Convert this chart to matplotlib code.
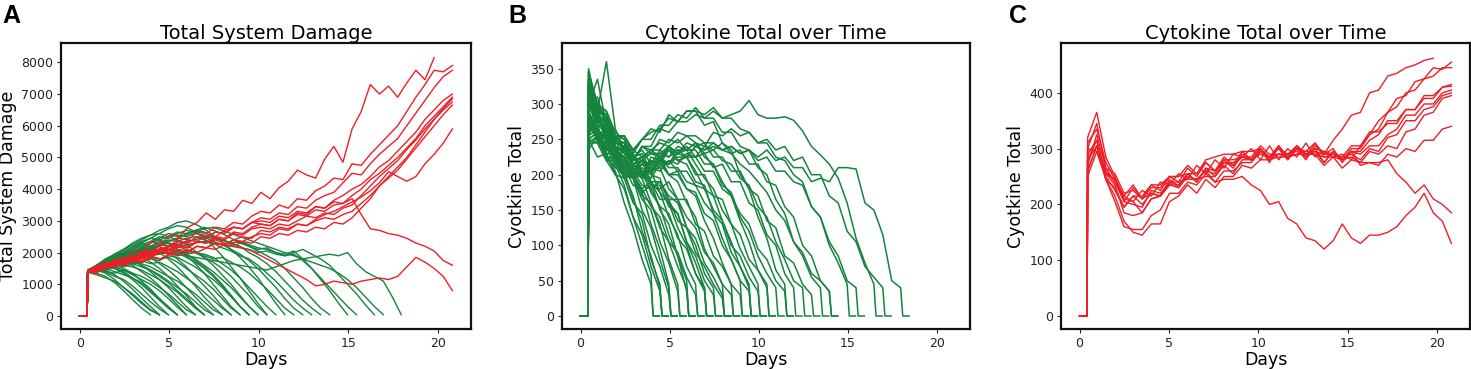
import numpy as np
import matplotlib
matplotlib.use("Agg")
import matplotlib.pyplot as plt

# ---------------- data ----------------
ONSET_DAY = 0.42          # infection onset: values are 0 before this day
GREEN_T0 = 0.45           # first sample day of each run after onset
GREEN_STEP = 0.5          # sampling step (days) for recovered runs
RED_DAYS = np.linspace(0.45, 20.8, 41)   # sample days for fatal runs

# Panel A - total system damage, recovered runs (green)
damage_recovered = [
    [1400, 1350, 1250, 1050, 800, 520, 250, 40],
    [1420, 1500, 1450, 1300, 1100, 850, 560, 300, 40],
    [1380, 1300, 1200, 1100, 900, 700, 450, 200, 40],
    [1400, 1450, 1350, 1150, 900, 650, 400, 180, 40],
    [1450, 1550, 1600, 1500, 1350, 1150, 900, 600, 300, 40],
    [1400, 1450, 1380, 1250, 1150, 950, 700, 450, 220, 40],
    [1430, 1600, 1700, 1650, 1500, 1350, 1100, 850, 550, 250, 40],
    [1390, 1420, 1500, 1400, 1300, 1200, 1050, 800, 550, 300, 40],
    [1430, 1550, 1600, 1500, 1400, 1200, 1000, 750, 500, 250, 40],
    [1410, 1550, 1650, 1800, 1700, 1600, 1400, 1200, 950, 650, 350, 40],
    [1460, 1500, 1450, 1550, 1450, 1300, 1150, 1000, 800, 550, 280, 40],
    [1400, 1500, 1600, 1700, 1850, 1750, 1600, 1400, 1150, 900, 600, 300, 40],
    [1440, 1480, 1400, 1350, 1450, 1350, 1250, 1100, 900, 700, 450, 200, 40],
    [1420, 1600, 1750, 1850, 1950, 2050, 1900, 1700, 1500, 1250, 950, 650, 300, 40],
    [1380, 1450, 1550, 1500, 1600, 1550, 1450, 1300, 1150, 950, 750, 500, 250, 40],
    [1410, 1500, 1650, 1700, 1650, 1750, 1600, 1450, 1250, 1050, 800, 550, 280, 40],
    [1450, 1550, 1700, 1800, 1750, 1900, 2000, 1850, 1650, 1450, 1200, 900, 600, 300, 40],
    [1400, 1500, 1450, 1600, 1700, 1650, 1550, 1450, 1300, 1100, 900, 700, 450, 200, 40],
    [1430, 1600, 1800, 1900, 2000, 2150, 2300, 2200, 2000, 1800, 1550, 1250, 950, 600, 300, 40],
    [1410, 1480, 1550, 1650, 1600, 1700, 1650, 1550, 1400, 1250, 1100, 900, 700, 450, 200, 40],
    [1460, 1550, 1700, 1850, 1800, 1950, 2100, 2050, 2200, 2000, 1800, 1550, 1250, 950, 650, 300, 40],
    [1400, 1450, 1600, 1550, 1700, 1800, 1750, 1650, 1700, 1550, 1400, 1200, 1000, 750, 500, 250, 40],
    [1420, 1600, 1750, 1900, 2050, 2200, 2350, 2450, 2400, 2300, 2100, 1900, 1650, 1350, 1000, 650, 300, 40],
    [1390, 1500, 1600, 1650, 1750, 1700, 1850, 1900, 1800, 1850, 1700, 1500, 1300, 1100, 850, 550, 250, 40],
    [1440, 1550, 1650, 1800, 1900, 2000, 2150, 2100, 2250, 2200, 2100, 1950, 1750, 1550, 1300, 1000, 650, 300, 40],
    [1410, 1480, 1500, 1600, 1550, 1650, 1700, 1800, 1750, 1900, 1850, 1700, 1550, 1350, 1150, 900, 600, 300, 40],
    [1440, 1550, 1700, 1800, 1900, 1850, 2000, 2050, 1950, 2100, 2000, 1850, 1700, 1500, 1250, 950, 650, 300, 40],
    [1430, 1600, 1800, 1950, 2100, 2250, 2400, 2550, 2600, 2500, 2400, 2250, 2050, 1850, 1600, 1300, 1000, 650, 300, 40],
    [1400, 1500, 1650, 1700, 1800, 1900, 1850, 2000, 2050, 1950, 2050, 1950, 1800, 1600, 1400, 1150, 900, 600, 300, 40],
    [1420, 1550, 1700, 1850, 1950, 2150, 2300, 2450, 2600, 2750, 2850, 2800, 2650, 2450, 2200, 1900, 1550, 1200, 800, 400, 40],
    [1450, 1500, 1550, 1700, 1650, 1800, 1900, 1950, 2050, 2000, 1950, 2050, 2000, 1850, 1700, 1500, 1250, 950, 650, 300, 40],
    [1400, 1550, 1650, 1800, 1900, 2000, 2150, 2200, 2350, 2300, 2200, 2100, 2000, 1950, 1850, 1650, 1450, 1200, 900, 600, 300, 40],
    [1430, 1600, 1750, 1950, 2100, 2300, 2450, 2550, 2700, 2800, 2950, 3000, 2900, 2750, 2550, 2350, 2100, 1850, 1550, 1200, 800, 400, 40],
    [1410, 1500, 1600, 1750, 1850, 1950, 2050, 2100, 2000, 2100, 2050, 1950, 2000, 1900, 1800, 1850, 1700, 1550, 1350, 1100, 850, 550, 250, 40],
    [1440, 1600, 1700, 1850, 2000, 2100, 2250, 2350, 2500, 2450, 2600, 2700, 2650, 2500, 2350, 2250, 2100, 1950, 1750, 1500, 1200, 900, 550, 250, 40],
    [1420, 1500, 1650, 1750, 1900, 2000, 2100, 2200, 2300, 2400, 2350, 2450, 2500, 2400, 2300, 2150, 2050, 1900, 1800, 1600, 1350, 1100, 800, 500, 250, 40],
    [1400, 1550, 1700, 1800, 1950, 2050, 2150, 2300, 2400, 2500, 2650, 2600, 2700, 2650, 2500, 2400, 2300, 2200, 2000, 1850, 1650, 1400, 1100, 800, 500, 250, 40],
    [1450, 1550, 1650, 1750, 1850, 1950, 2050, 2150, 2250, 2350, 2450, 2600, 2700, 2800, 2700, 2600, 2450, 2300, 2200, 2050, 1900, 1750, 1500, 1200, 900, 550, 250, 40],
    [1410, 1550, 1700, 1850, 1950, 2100, 2200, 2300, 2450, 2600, 2550, 2500, 2600, 2550, 2450, 2400, 2300, 2350, 2250, 2150, 2100, 2000, 1950, 2050, 1800, 1500, 1150, 800, 400, 40],
    [1430, 1500, 1600, 1700, 1800, 1900, 2000, 2100, 2200, 2300, 2250, 2350, 2400, 2500, 2450, 2400, 2300, 2350, 2200, 2100, 2150, 2000, 1900, 1950, 1750, 1500, 1200, 900, 600, 300, 40],
    [1400, 1500, 1600, 1700, 1800, 1850, 1950, 2050, 2100, 2200, 2150, 2250, 2300, 2350, 2300, 2250, 2200, 2150, 2100, 2000, 2050, 1950, 1900, 2000, 2100, 1950, 1800, 1600, 1300, 1000, 700, 350, 40],
    [1420, 1550, 1650, 1750, 1850, 1950, 2050, 2150, 2250, 2350, 2450, 2550, 2650, 2750, 2800, 2700, 2600, 2500, 2400, 2300, 2200, 2100, 2000, 1900, 1800, 1700, 1600, 1500, 1350, 1150, 900, 600, 300, 40],
    [1400, 1450, 1550, 1650, 1700, 1800, 1850, 1900, 1950, 2000, 1950, 1900, 1850, 1800, 1750, 1700, 1650, 1600, 1550, 1500, 1450, 1550, 1650, 1750, 1800, 1850, 1900, 1950, 1900, 2000, 1650, 1400, 1250, 1100, 600, 40],
]

# Panel B - cytokine total, recovered runs (green); each run drops to 0 after its last value
cytokine_recovered = [
    [280, 250, 225, 205, 160, 125, 80, 45],
    [300, 265, 250, 215, 185, 140, 100, 60],
    [330, 290, 255, 240, 200, 170, 120, 85, 40],
    [250, 245, 220, 200, 180, 140, 115, 70, 35],
    [290, 300, 240, 225, 205, 165, 135, 80, 45],
    [320, 275, 265, 240, 215, 195, 150, 125, 80, 40],
    [250, 225, 230, 200, 195, 160, 145, 100, 70, 30],
    [335, 280, 260, 250, 220, 200, 175, 130, 95, 45],
    [345, 300, 275, 250, 245, 210, 195, 160, 130, 80, 45],
    [270, 265, 235, 230, 200, 195, 165, 150, 105, 75, 35],
    [300, 335, 270, 255, 235, 230, 200, 190, 150, 130, 85, 50],
    [235, 255, 225, 210, 200, 195, 170, 160, 125, 105, 70, 40],
    [265, 290, 360, 265, 235, 215, 205, 175, 155, 115, 85, 35],
    [325, 295, 290, 260, 250, 225, 220, 190, 175, 140, 115, 70, 45],
    [290, 245, 240, 210, 210, 185, 180, 155, 140, 105, 90, 55, 30],
    [310, 270, 270, 245, 240, 220, 225, 200, 195, 160, 145, 105, 75, 40],
    [255, 285, 245, 235, 205, 205, 185, 180, 155, 145, 110, 95, 60, 35],
    [320, 285, 260, 255, 230, 230, 205, 205, 175, 160, 125, 100, 60, 40],
    [350, 290, 285, 255, 250, 225, 230, 205, 210, 180, 165, 125, 100, 60, 40],
    [285, 255, 255, 225, 225, 200, 205, 185, 185, 155, 145, 105, 85, 50, 30],
    [310, 285, 275, 250, 245, 225, 235, 215, 225, 200, 190, 160, 140, 95, 70, 45],
    [245, 245, 220, 220, 195, 200, 180, 190, 165, 165, 135, 125, 90, 70, 45, 25],
    [270, 250, 245, 225, 220, 205, 205, 190, 190, 170, 160, 125, 110, 75, 55, 30],
    [330, 290, 280, 245, 240, 215, 220, 205, 220, 200, 205, 180, 170, 135, 110, 75, 45],
    [280, 250, 245, 220, 215, 195, 200, 180, 190, 165, 165, 140, 125, 90, 75, 45, 30],
    [300, 275, 265, 235, 225, 205, 215, 205, 225, 210, 210, 190, 185, 160, 145, 110, 80, 50],
    [250, 260, 225, 225, 195, 200, 175, 185, 180, 190, 165, 165, 130, 120, 85, 70, 45, 30],
    [320, 285, 275, 240, 235, 215, 220, 230, 225, 235, 220, 225, 205, 180, 170, 135, 105, 70, 45],
    [290, 260, 250, 225, 220, 200, 205, 195, 215, 200, 200, 180, 175, 145, 135, 100, 80, 50, 35],
    [300, 310, 265, 255, 235, 235, 225, 230, 230, 240, 220, 215, 190, 185, 145, 130, 90, 70, 40],
    [345, 295, 280, 245, 240, 220, 225, 235, 225, 240, 230, 235, 215, 195, 180, 150, 130, 95, 70, 45],
    [255, 265, 230, 230, 200, 205, 195, 215, 210, 220, 205, 205, 185, 180, 150, 135, 100, 85, 55, 35],
    [315, 285, 270, 240, 230, 215, 225, 235, 235, 250, 245, 255, 245, 225, 215, 190, 170, 135, 105, 65, 45],
    [245, 255, 225, 220, 195, 205, 200, 220, 215, 235, 220, 225, 200, 200, 170, 165, 130, 115, 80, 65, 40],
    [305, 275, 270, 245, 240, 220, 240, 235, 245, 240, 250, 235, 235, 215, 215, 185, 175, 140, 120, 85, 60, 40],
    [335, 295, 285, 255, 255, 235, 250, 265, 260, 285, 275, 290, 290, 270, 275, 245, 235, 200, 180, 140, 110, 65, 45],
    [280, 255, 250, 225, 225, 205, 220, 210, 230, 225, 235, 225, 225, 205, 205, 180, 170, 145, 130, 95, 80, 50, 35],
    [260, 270, 235, 235, 205, 215, 200, 225, 220, 240, 230, 240, 225, 230, 210, 215, 190, 190, 160, 150, 115, 100, 60, 40],
    [305, 280, 265, 240, 230, 210, 220, 215, 235, 225, 240, 235, 245, 230, 235, 220, 215, 195, 185, 155, 140, 105, 80, 50, 40],
    [250, 260, 230, 230, 200, 210, 195, 220, 215, 240, 230, 245, 240, 245, 225, 225, 205, 205, 180, 170, 135, 125, 85, 75, 45, 30],
    [325, 290, 285, 250, 255, 230, 250, 250, 270, 270, 285, 280, 295, 280, 280, 260, 260, 240, 235, 210, 200, 165, 145, 105, 85, 55, 40],
    [280, 285, 250, 240, 210, 205, 195, 210, 205, 220, 215, 230, 225, 240, 235, 245, 230, 235, 215, 215, 190, 185, 155, 140, 100, 85, 50, 35],
    [310, 280, 275, 245, 245, 220, 240, 230, 250, 245, 260, 255, 255, 245, 245, 235, 230, 215, 205, 190, 175, 150, 135, 105, 90, 60, 50, 35],
    [345, 300, 290, 255, 255, 235, 250, 260, 265, 280, 275, 290, 290, 285, 295, 280, 280, 265, 260, 245, 245, 225, 220, 200, 190, 155, 140, 100, 75, 45],
    [300, 270, 260, 230, 225, 205, 215, 205, 225, 215, 230, 225, 240, 235, 245, 235, 240, 230, 235, 220, 225, 205, 205, 190, 185, 155, 140, 105, 85, 50, 40],
    [290, 260, 260, 235, 235, 220, 240, 240, 265, 260, 275, 275, 285, 280, 290, 280, 285, 290, 305, 285, 280, 280, 282, 277, 262, 240, 228, 215, 195, 160, 110, 75, 45],
    [280, 255, 250, 220, 215, 195, 210, 200, 220, 215, 235, 235, 245, 240, 260, 255, 265, 255, 260, 245, 250, 235, 240, 220, 225, 200, 200, 170, 160, 120, 105, 70, 55, 40],
    [315, 275, 265, 235, 225, 205, 215, 205, 220, 215, 225, 225, 240, 235, 240, 235, 240, 230, 235, 225, 235, 220, 225, 210, 210, 190, 195, 190, 210, 210, 208, 160, 150, 115, 50, 40],
]

# Panel A - total system damage, fatal runs (red), sampled on RED_DAYS
damage_fatal = [
    [1400, 1600, 1550, 1800, 1750, 2050, 2000, 2350, 2250, 2550, 2500, 2800, 2950, 3250, 3050, 3350, 3300, 3650, 3550, 3900,
     3700, 4050, 4250, 4600, 4450, 4350, 4950, 5350, 4850, 5900, 6450, 7300, 7000, 7250, 6900, 7350, 7750, 7450, 8150],
    [1400, 1380, 1650, 1600, 1850, 1800, 2050, 2000, 2250, 2200, 2450, 2400, 2650, 2600, 2800, 2750, 2950, 2900, 3150, 3300,
     3250, 3500, 3400, 3700, 3650, 3950, 4100, 4350, 4300, 4800, 4750, 5100, 5400, 5700, 6000, 6450, 6900, 7300, 7750, 7700, 7900],
    [1380, 1500, 1600, 1550, 1800, 1750, 1950, 2100, 2000, 2250, 2200, 2400, 2350, 2550, 2500, 2700, 2800, 2750, 2950, 3100,
     3050, 3250, 3200, 3450, 3400, 3650, 3800, 3900, 4200, 4500, 4450, 4800, 5100, 5350, 5600, 6000, 6400, 6800, 7200, 7550, 7750],
    [1420, 1400, 1600, 1550, 1750, 1700, 1900, 1850, 2050, 2000, 2200, 2150, 2350, 2300, 2500, 2450, 2650, 2600, 2800, 2900,
     2850, 3050, 3000, 3250, 3200, 3450, 3400, 3650, 3800, 4000, 4150, 4400, 4700, 4900, 5200, 5500, 5800, 6200, 6500, 6800, 7000],
    [1400, 1500, 1650, 1600, 1800, 1900, 1850, 2050, 2000, 2200, 2350, 2300, 2500, 2450, 2650, 2600, 2800, 2750, 2950, 3000,
     2950, 3150, 3100, 3300, 3250, 3450, 3400, 3600, 3550, 3800, 4000, 4300, 4500, 4750, 5000, 5300, 5600, 6000, 6300, 6600, 6900],
    [1430, 1500, 1600, 1750, 1700, 1850, 1800, 1950, 2100, 2050, 2200, 2150, 2350, 2300, 2450, 2400, 2600, 2550, 2750, 2800,
     2750, 2900, 2850, 3000, 3150, 3100, 3250, 3200, 3400, 3500, 3800, 4100, 4400, 4650, 4900, 5250, 5550, 5900, 6200, 6500, 6750],
    [1390, 1450, 1550, 1650, 1600, 1750, 1700, 1850, 1800, 1950, 2050, 2000, 2200, 2150, 2300, 2250, 2400, 2500, 2450, 2700,
     2650, 2800, 2750, 2900, 2850, 3000, 3100, 3050, 3200, 3300, 3550, 3800, 4100, 4350, 4600, 4950, 5300, 5650, 6000, 6350, 6650],
    [1410, 1500, 1600, 1700, 1650, 1800, 1750, 1900, 2000, 1950, 2100, 2050, 2200, 2150, 2300, 2250, 2400, 2350, 2500, 2600,
     2550, 2750, 2700, 2900, 2850, 3050, 3200, 3300, 3450, 3600, 3750, 3950, 4200, 4550, 4400, 4250, 4400, 4800, 5100, 5450, 5900],
    [1400, 1350, 1600, 1550, 1800, 1750, 1950, 1900, 2150, 2100, 2350, 2300, 2500, 2450, 2650, 2600, 2800, 2750, 2950, 2900,
     2850, 3050, 3000, 3200, 3150, 3350, 3300, 3500, 3550, 3700, 3200, 2750, 2700, 2600, 2550, 2450, 2300, 2200, 2050, 1750, 1600],
    [1420, 1550, 1700, 1650, 1850, 1800, 2000, 1950, 2150, 2100, 2250, 2200, 2350, 2300, 2400, 2300, 2250, 2150, 2050, 1900,
     1750, 1600, 1450, 1300, 1150, 950, 1000, 1100, 1050, 1000, 1100, 1150, 1200, 1150, 1250, 1550, 1850, 1700, 1500, 1250, 800],
    [1400, 1500, 1450, 1650, 1600, 1750, 1700, 1850, 1800, 1950, 1900, 2050, 2000, 2150, 2100, 2250, 2200, 2350, 2300, 2500,
     2450, 2600, 2550, 2700, 2650, 2800, 2750, 2950, 2900, 3100, 3400, 3700, 4100, 4400, 4700, 5000, 5400, 5800, 6200, 6550, 6850],
]

# Panel C - cytokine total, fatal runs (red), sampled on RED_DAYS
cytokine_fatal = [
    [300, 345, 265, 240, 205, 230, 210, 235, 225, 250, 240, 265, 250, 275, 260, 285, 270, 295, 280, 300,
     275, 305, 285, 300, 280, 305, 290, 315, 335, 360, 365, 400, 405, 430, 435, 445, 450, 458, 462],
    [280, 315, 255, 245, 215, 205, 225, 215, 240, 235, 255, 245, 270, 255, 280, 265, 290, 285, 300, 280,
     305, 280, 300, 285, 310, 285, 295, 285, 290, 280, 305, 325, 350, 365, 390, 395, 420, 425, 445, 442, 455],
    [260, 305, 245, 230, 195, 215, 200, 220, 215, 245, 230, 255, 240, 265, 260, 275, 270, 285, 280, 295,
     285, 305, 280, 300, 290, 300, 275, 295, 280, 300, 300, 325, 335, 365, 375, 400, 405, 425, 430, 445, 445],
    [310, 335, 275, 245, 205, 200, 195, 225, 220, 240, 235, 250, 245, 260, 255, 280, 265, 290, 280, 295,
     285, 300, 290, 295, 285, 310, 285, 290, 280, 295, 295, 315, 325, 350, 350, 370, 370, 390, 390, 410, 415],
    [270, 325, 265, 255, 220, 225, 210, 220, 215, 235, 235, 255, 240, 265, 250, 275, 275, 285, 280, 300,
     285, 290, 290, 305, 285, 295, 290, 300, 275, 295, 290, 305, 305, 325, 335, 360, 360, 380, 380, 400, 405],
    [250, 295, 255, 235, 185, 180, 185, 210, 215, 235, 230, 250, 245, 250, 250, 270, 255, 280, 280, 290,
     285, 300, 280, 305, 290, 300, 295, 290, 285, 290, 280, 300, 295, 320, 325, 350, 350, 370, 375, 395, 400],
    [290, 315, 245, 205, 160, 155, 155, 180, 190, 220, 220, 240, 235, 255, 240, 260, 260, 275, 275, 295,
     280, 290, 290, 300, 295, 295, 275, 295, 280, 285, 275, 295, 290, 305, 300, 330, 335, 360, 365, 390, 395],
    [300, 295, 245, 215, 170, 150, 145, 165, 165, 205, 215, 235, 220, 245, 230, 250, 250, 270, 265, 280,
     280, 285, 285, 290, 290, 290, 270, 285, 265, 280, 275, 275, 270, 290, 285, 300, 295, 315, 315, 335, 340],
    [260, 305, 250, 225, 195, 215, 215, 235, 235, 250, 250, 255, 255, 275, 260, 280, 280, 285, 285, 305,
     290, 290, 285, 305, 290, 290, 285, 285, 280, 295, 270, 275, 275, 280, 255, 240, 220, 235, 210, 200, 185],
    [320, 365, 285, 250, 210, 205, 185, 210, 215, 240, 240, 245, 245, 260, 240, 245, 245, 250, 235, 225,
     200, 205, 175, 165, 140, 135, 120, 135, 165, 140, 130, 145, 145, 150, 160, 180, 195, 220, 185, 170, 130],
    [280, 305, 260, 240, 215, 235, 210, 230, 230, 250, 250, 270, 255, 280, 285, 290, 290, 295, 295, 300,
     280, 305, 285, 290, 295, 310, 290, 290, 285, 305, 305, 330, 330, 345, 345, 370, 370, 395, 395, 410, 412],
]

DROP_DT = 0.12     # recovered cytokine runs fall to zero within this many days
ZERO_TAIL = 0.35   # and stay at zero for this long before the run ends

# ---------------- styling ----------------
GREEN = '#15843e'
RED = '#ee1e26'
LW = 1.0

plt.rcParams['font.family'] = ['DejaVu Sans']


def green_days(n):
    return GREEN_T0 + GREEN_STEP * np.arange(n)


def with_onset(t, v):
    return (np.concatenate([[0.0, ONSET_DAY], t]),
            np.concatenate([[0.0, 0.0], np.asarray(v, float)]))


fig = plt.figure(figsize=(14.71, 3.69), dpi=100)
bottom, height = 40 / 369, 286 / 369
axA = fig.add_axes([61 / 1471, bottom, 410 / 1471, height])
axB = fig.add_axes([562 / 1471, bottom, 408 / 1471, height])
axC = fig.add_axes([1061 / 1471, bottom, 409 / 1471, height])

# Panel A
for v in damage_recovered:
    t, y = with_onset(green_days(len(v)), v)
    axA.plot(t, y, color=GREEN, lw=LW)
for v in damage_fatal:
    t, y = with_onset(RED_DAYS[:len(v)], v)
    axA.plot(t, y, color=RED, lw=LW)

# Panel B
for v in cytokine_recovered:
    t = green_days(len(v))
    t = np.concatenate([t, [t[-1] + DROP_DT, t[-1] + DROP_DT + ZERO_TAIL]])
    t, y = with_onset(t, list(v) + [0, 0])
    axB.plot(t, y, color=GREEN, lw=1.1)

# Panel C
for v in cytokine_fatal:
    t, y = with_onset(RED_DAYS[:len(v)], v)
    axC.plot(t, y, color=RED, lw=LW)

XLIM = (-1.04, 21.84)
settings = [
    (axA, 'Total System Damage', 'Total System Damage', (-410, 8610), np.arange(0, 8001, 1000)),
    (axB, 'Cytokine Total over Time', 'Cyotkine Total', (-18.4, 386.4), np.arange(0, 351, 50)),
    (axC, 'Cytokine Total over Time', 'Cyotkine Total', (-23.3, 489.3), np.arange(0, 401, 100)),
]
for ax, title, ylabel, ylim, yt in settings:
    ax.set_xlim(*XLIM)
    ax.set_ylim(*ylim)
    ax.set_xticks([0, 5, 10, 15, 20])
    ax.set_yticks(yt)
    ax.tick_params(labelsize=9, length=3, pad=2.5, width=0.8, colors='#222222')
    ax.set_title(title, fontsize=14, pad=3)
    ax.set_xlabel('Days', fontsize=12.5, labelpad=1)
    ax.set_ylabel(ylabel, fontsize=12.5, labelpad=3)
    for s in ax.spines.values():
        s.set_linewidth(1.6)
        s.set_color('#111111')

for x, letter in [(2, 'A'), (508, 'B'), (1009, 'C')]:
    fig.text(x / 1471, 1 - 4 / 369, letter, fontsize=18, fontweight='bold',
             family=['Liberation Sans', 'DejaVu Sans'], va='top', ha='left')

fig.savefig('out.png', dpi=100)
